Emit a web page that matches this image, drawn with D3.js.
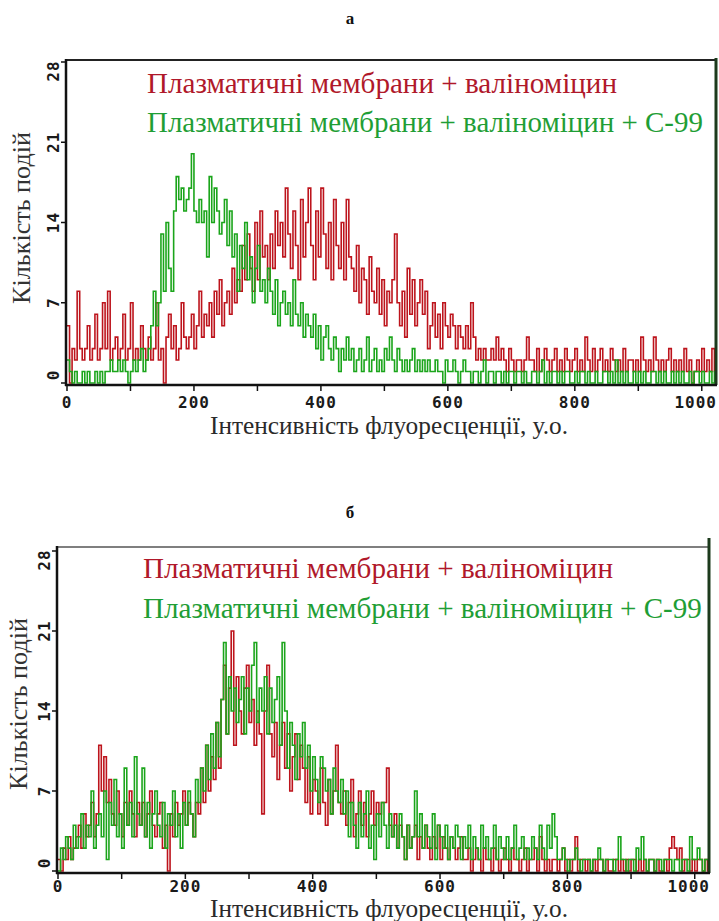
<!DOCTYPE html>
<html lang="uk">
<head>
<meta charset="utf-8">
<title>Кількість подій</title>
<script src="https://cdnjs.cloudflare.com/ajax/libs/d3/7.8.5/d3.min.js"></script>
<style>
body { margin: 0; background: #fff; }
.tick-label {
   font-family: "DejaVu Sans Mono", monospace;
   font-weight: bold;
   font-size: 16px;
   letter-spacing: 1px;
   fill: #1a1a1a;
}
.serif { font-family: "Times New Roman", Tinos, serif; }
.hist { fill: none; stroke-width: 1.6; }
</style>
</head>
<body>
<script>

// histogram bins: 256 bins of 4 channels each, 0..1024
const binWidth = 4;
const channelMax = 1024;

// panel а: red = мембрани + валіноміцин, green = + С-99
const aRed = [
  5,0,3,2,8,3,2,3,5,2,3,6,2,3,7,3,
  8,2,3,4,2,3,6,2,3,7,2,3,2,5,3,2,
  4,2,3,7,2,3,0,4,6,3,5,2,3,7,4,3,
  4,6,3,5,8,4,6,5,7,4,8,6,9,5,7,8,
  6,10,7,9,8,12,9,13,10,8,14,9,15,11,12,9,
  13,10,15,12,14,11,17,13,10,15,12,9,16,11,14,17,
  12,9,15,11,17,13,10,14,9,16,12,10,14,9,16,11,
  10,8,12,7,10,9,6,11,8,7,10,6,9,5,8,7,
  9,13,7,5,8,4,10,6,9,5,7,9,6,8,3,5,
  7,4,6,3,7,5,4,6,5,3,5,4,3,5,3,7,
  4,2,3,2,3,2,2,3,2,4,2,3,2,1,3,2,
  1,2,2,1,2,4,2,2,1,3,1,2,3,2,1,2,
  3,1,2,1,3,2,1,2,3,1,2,1,4,2,1,3,
  1,2,3,1,2,1,3,2,1,2,1,3,1,2,2,1,
  2,1,4,2,1,2,1,4,2,1,2,1,2,3,1,2,
  1,2,1,3,1,2,0,1,2,1,3,1,2,1,3,1
];
const aGreen = [
  2,1,0,1,0,0,1,0,1,0,0,1,0,1,0,1,
  1,2,1,1,2,1,2,1,0,1,2,1,2,3,1,2,
  3,5,8,5,7,13,8,14,10,8,15,18,16,17,15,16,
  17,20,15,14,16,14,15,11,18,14,17,15,13,14,16,12,
  15,11,13,8,12,10,14,9,11,7,10,12,8,9,7,10,
  8,6,9,5,7,8,6,7,5,9,6,5,7,4,6,5,
  4,6,3,5,2,4,5,3,2,4,3,1,3,2,4,2,
  3,1,2,3,1,2,4,1,2,3,1,2,1,3,2,4,
  2,1,3,2,1,2,1,2,3,1,2,1,2,1,2,1,
  1,2,1,1,0,2,1,1,2,1,0,1,2,1,1,0,
  1,1,0,1,2,0,1,1,0,1,1,0,1,0,1,1,
  0,1,1,0,1,0,0,1,1,0,1,2,0,1,0,1,
  1,0,1,0,1,1,0,0,1,0,1,1,0,1,0,0,
  1,0,0,1,1,0,1,0,2,0,1,0,1,0,0,1,
  0,1,0,1,0,0,1,1,0,1,0,1,0,0,1,0,
  1,0,1,0,0,1,0,1,1,0,1,0,0,1,0,1
];

// panel б
const bRed = [
  1,0,2,1,3,1,2,3,4,2,5,3,4,6,3,5,
  11,7,10,6,8,5,4,7,5,3,6,4,7,5,3,6,
  4,6,3,5,7,4,3,5,6,2,4,0,5,3,6,4,
  5,7,4,6,5,3,6,5,9,6,11,7,10,8,13,9,
  15,18,12,16,21,11,17,14,12,16,18,13,15,11,14,12,
  5,14,18,12,10,13,8,11,13,9,12,7,10,12,8,11,
  9,6,10,5,8,7,5,9,6,4,8,5,7,11,6,5,
  7,4,6,8,3,5,7,4,6,3,5,7,4,6,5,6,
  6,9,4,3,5,2,4,3,1,4,2,3,4,1,3,2,
  4,2,1,3,2,4,1,3,2,1,3,2,1,2,3,1,
  1,2,0,1,2,1,0,2,1,1,0,2,1,0,1,2,
  1,0,2,1,1,0,1,2,0,1,1,2,0,3,1,0,
  1,0,1,1,0,1,2,0,1,0,1,3,0,1,1,0,
  1,0,1,0,1,1,0,1,0,0,1,1,0,1,0,1,
  0,1,1,0,1,0,1,0,1,1,0,1,0,0,1,0,
  2,3,2,1,2,0,1,1,0,1,0,1,1,0,1,0
];
const bGreen = [
  0,2,1,3,2,1,4,2,3,5,2,4,3,7,2,4,
  5,3,7,1,6,4,8,3,5,2,9,4,6,3,10,5,
  4,9,3,6,2,5,7,4,3,6,2,5,4,7,3,5,
  2,6,4,7,5,3,8,6,9,7,11,8,12,9,13,10,
  15,20,12,17,14,16,13,15,17,12,16,14,18,20,13,16,
  14,17,12,16,13,15,17,11,20,14,9,13,11,8,12,10,
  13,9,11,7,10,8,6,10,9,7,8,5,9,7,6,8,
  5,7,3,6,4,2,6,3,5,7,2,4,1,5,3,6,
  4,2,5,3,4,2,5,3,1,4,2,3,7,3,5,2,
  4,3,2,5,1,4,3,2,4,1,3,2,4,3,1,3,
  2,4,1,3,2,1,4,2,3,1,2,4,1,3,2,1,
  3,1,2,4,1,2,3,1,2,1,3,2,1,4,2,1,
  4,2,5,3,1,1,2,1,0,1,1,2,1,0,1,1,
  1,0,1,1,2,1,0,1,1,1,0,1,3,1,1,0,
  1,1,0,2,1,3,1,0,1,1,0,1,1,0,1,1,
  1,0,1,1,0,1,1,0,3,1,1,2,1,0,1,1
];

const xTicks = [0, 100, 200, 300, 400, 500, 600, 700, 800, 900, 1000];
const xTickLabels = [0, 200, 400, 600, 800, 1000];
const yTicks = [0, 7, 14, 21, 28];

const legendRed = "Плазматичні мембрани + валіноміцин";
const legendGreen = "Плазматичні мембрани + валіноміцин + С-99";
const yTitle = "Кількість подій";
const xTitle = "Інтенсивність флуоресценції, у.о.";

const redColor = "#bd141c";
const greenColor = "#1ba51b";

const W = 719, H = 921;

const svg = d3.select("body").append("svg")
   .attr("width", W)
   .attr("height", H);

// layout of both panels
const panels = [
   { letter: "а", red: aRed, green: aGreen,
     left: 67, right: 717, top: 60, axisY: 385, y0: 383, yTop: 62, rightTop: 58,
     topStroke: "#222", topWidth: 2, tickDy: 23,
     letterY: 24, legendX: 147, legendY: [93, 132], legendW: [470, 556],
     yTitleX: 30, yTitleY: 218, xTitleY: 434 },
   { letter: "б", red: bRed, green: bGreen,
     left: 58, right: 710, top: 547, axisY: 873, y0: 871, yTop: 551, rightTop: 538,
     topStroke: "#555", topWidth: 1.5, tickDy: 19,
     letterY: 518, legendX: 143, legendY: [578, 618], legendW: [470, 559],
     yTitleX: 27, yTitleY: 704, xTitleY: 917 }
];

function fitWidth(text, width) {
   text.style("font-size", "100px");
   const w = text.node().getComputedTextLength();
   text.style("font-size", (100 * width / w) + "px");
}

panels.forEach((p, pi) => {
   const g = svg.append("g");

   const xScale = d3.scaleLinear()
      .domain([0, channelMax])
      .range([p.left, p.right]);

   const yScale = d3.scaleLinear()
      .domain([0, 28])
      .range([p.y0, p.yTop]);

   // histogram outlines (step)
   const clipId = "clip" + pi;
   g.append("clipPath").attr("id", clipId)
      .append("rect")
      .attr("x", p.left)
      .attr("y", p.top)
      .attr("width", p.right - p.left)
      .attr("height", p.axisY - p.top);

   const stepLine = d3.line()
      .x(d => xScale(d[0]))
      .y(d => yScale(d[1]))
      .curve(d3.curveStepAfter);

   function toSteps(values) {
      const pts = values.map((v, i) => [i * binWidth, v]);
      pts.push([channelMax, values[values.length - 1]]);
      return pts;
   }

   [[p.red, redColor], [p.green, greenColor]].forEach(([vals, col]) => {
      g.append("path")
         .datum(toSteps(vals))
         .attr("class", "hist")
         .attr("clip-path", `url(#${clipId})`)
         .attr("stroke", col)
         .attr("d", stepLine);
   });

   // frame: top line and right border
   g.append("line")
      .attr("x1", p.left).attr("x2", p.right)
      .attr("y1", p.top).attr("y2", p.top)
      .attr("stroke", p.topStroke)
      .attr("stroke-width", p.topWidth);
   g.append("line")
      .attr("x1", p.right - 1).attr("x2", p.right - 1)
      .attr("y1", p.rightTop).attr("y2", p.axisY)
      .attr("stroke", "#1c3a1c")
      .attr("stroke-width", 3);

   // bottom axis
   g.append("line")
      .attr("x1", p.left - 2).attr("x2", p.right)
      .attr("y1", p.axisY).attr("y2", p.axisY)
      .attr("stroke", "#111")
      .attr("stroke-width", 2.5);
   g.selectAll(".xtick")
      .data(xTicks)
      .enter()
      .append("line")
      .attr("x1", d => xScale(d)).attr("x2", d => xScale(d))
      .attr("y1", p.axisY).attr("y2", p.axisY + 6)
      .attr("stroke", "#111")
      .attr("stroke-width", 1.5);
   g.selectAll(".xlabel")
      .data(xTickLabels)
      .enter()
      .append("text")
      .attr("class", "tick-label")
      .attr("text-anchor", "middle")
      .attr("y", p.axisY + p.tickDy)
      .text(d => d)
      .attr("x", function(d) {
         const half = this.getComputedTextLength() / 2;
         return Math.min(xScale(d), p.right - half);
      });

   // left axis
   g.append("line")
      .attr("x1", p.left - 1).attr("x2", p.left - 1)
      .attr("y1", p.top - 1).attr("y2", p.axisY + 1)
      .attr("stroke", "#111")
      .attr("stroke-width", 2.5);
   g.selectAll(".ytick")
      .data(yTicks)
      .enter()
      .append("line")
      .attr("x1", p.left - 6).attr("x2", p.left)
      .attr("y1", d => yScale(d)).attr("y2", d => yScale(d))
      .attr("stroke", "#111")
      .attr("stroke-width", 1.5);
   g.selectAll(".ylabel")
      .data(yTicks)
      .enter()
      .append("text")
      .attr("class", "tick-label")
      .attr("text-anchor", "middle")
      .attr("dy", "0.36em")
      .attr("transform", d => {
         const y = Math.max(Math.min(yScale(d), p.y0 - 8), p.yTop + 9);
         return `translate(${p.left - 14},${y}) rotate(-90)`;
      })
      .text(d => d);

   // panel letter
   g.append("text")
      .attr("class", "serif")
      .attr("x", 350)
      .attr("y", p.letterY)
      .attr("text-anchor", "middle")
      .style("font-size", "17px")
      .style("font-weight", "bold")
      .attr("fill", "#111")
      .text(p.letter);

   // legend texts
   const lr = g.append("text")
      .attr("class", "serif")
      .attr("x", p.legendX)
      .attr("y", p.legendY[0])
      .attr("fill", "#b0182a")
      .text(legendRed);
   fitWidth(lr, p.legendW[0]);
   const lg = g.append("text")
      .attr("class", "serif")
      .attr("x", p.legendX)
      .attr("y", p.legendY[1])
      .attr("fill", "#1f9e35")
      .text(legendGreen);
   fitWidth(lg, p.legendW[1]);

   // axis titles
   const yt = g.append("text")
      .attr("class", "serif")
      .attr("text-anchor", "middle")
      .attr("transform", `translate(${p.yTitleX},${p.yTitleY}) rotate(-90)`)
      .attr("fill", "#333")
      .text(yTitle);
   fitWidth(yt, 172);
   const xt = g.append("text")
      .attr("class", "serif")
      .attr("text-anchor", "middle")
      .attr("x", 389)
      .attr("y", p.xTitleY)
      .attr("fill", "#2a2a2a")
      .text(xTitle);
   fitWidth(xt, 358);
});

</script>
</body>
</html>
